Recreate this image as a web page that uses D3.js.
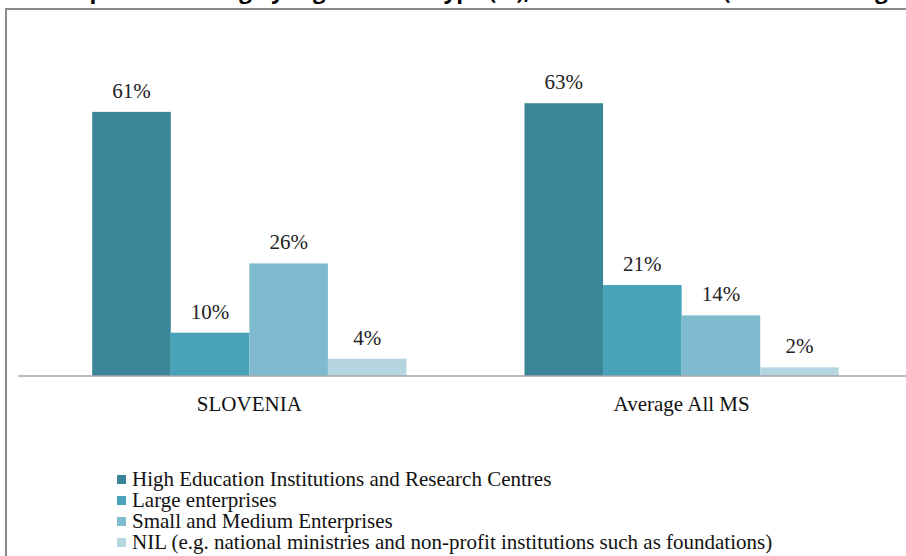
<!DOCTYPE html>
<html>
<head>
<meta charset="utf-8">
<script src="https://cdn.jsdelivr.net/npm/d3@7"></script>
<style>
  body { margin: 0; background: #fff; }
  svg { display: block; }
  .serif { font-family: 'Liberation Serif', 'Times New Roman', Times, serif; }
</style>
</head>
<body>
<div id="wrapper"></div>
<script>
// data
const groups = ['SLOVENIA', 'Average All MS']
const series = [
    'High Education Institutions and Research Centres',
    'Large enterprises',
    'Small and Medium Enterprises',
    'NIL (e.g. national ministries and non-profit institutions such as foundations)',
]
const slovenia = [61, 10, 26, 4]
const averageMS = [63, 21, 14, 2]
const colors = ['#3a8598', '#48a2ba', '#7fbace', '#b5d5e1']

const width = 906
const height = 556
const dimensions = {
    width: width,
    height: height,
    margin: { top: 35, right: 9, bottom: 180, left: 33 },
}
dimensions.boundedWidth = dimensions.width - dimensions.margin.left - dimensions.margin.right
dimensions.boundedHeight = dimensions.height - dimensions.margin.top - dimensions.margin.bottom

const wrapper = d3.select('#wrapper')
    .append('svg')
        .attr('width', dimensions.width)
        .attr('height', dimensions.height)

// title, mostly cut off by the top edge
wrapper.append('text')
    .attr('x', 18)
    .attr('y', -1)
    .style('font-family', "'Open Sans', sans-serif")
    .attr('font-weight', 'bold')
    .attr('font-size', 22)
    .attr('fill', '#000')
    .text('Participation funding by organisation type (%), H2020 SLOVENIA (cumulative figures) age data')

// chart frame
wrapper.append('rect')
    .attr('x', 6)
    .attr('y', 9)
    .attr('width', 920)
    .attr('height', 600)
    .attr('fill', 'none')
    .attr('stroke', '#8a8a8a')
    .attr('stroke-width', 2)

const bounds = wrapper.append('g')
    .attr('transform', `translate(${dimensions.margin.left}, ${dimensions.margin.top})`)

// scales
const x0 = d3.scaleBand()
    .domain(groups)
    .range([0, 865])
    .paddingInner(0.273)
    .paddingOuter(0.137)

const x1 = d3.scaleBand()
    .domain(series)
    .range([0, x0.bandwidth()])

const yScale = d3.scaleLinear()
    .domain([0, 80])
    .range([341, 341 - 80 * 4.33])

const table = groups.map((g, i) => ({
    group: g,
    values: (i === 0 ? slovenia : averageMS).map((v, j) => ({ key: series[j], value: v, color: colors[j] })),
}))

const groupG = bounds.selectAll('.grp')
    .data(table)
    .join('g')
        .attr('transform', d => `translate(${x0(d.group)}, 0)`)

groupG.selectAll('rect')
    .data(d => d.values)
    .join('rect')
        .attr('x', d => x1(d.key))
        .attr('width', x1.bandwidth())
        .attr('y', d => yScale(d.value))
        .attr('height', d => yScale(0) - yScale(d.value))
        .attr('fill', d => d.color)

groupG.selectAll('.lbl')
    .data(d => d.values)
    .join('text')
        .attr('class', 'lbl serif')
        .attr('x', d => x1(d.key) + x1.bandwidth() / 2)
        .attr('y', d => yScale(d.value) - 14)
        .attr('text-anchor', 'middle')
        .attr('font-size', 21)
        .attr('fill', '#222')
        .text(d => d.value + '%')

// x axis
const xAxis = bounds.append('g')
    .attr('transform', `translate(0, ${yScale(0)})`)
    .call(d3.axisBottom(x0).tickSize(0).tickPadding(20))
xAxis.select('.domain').remove()
xAxis.append('line')
    .attr('x1', -15).attr('x2', 880)
    .attr('stroke', '#a6a6a6')
    .attr('stroke-width', 1.5)
xAxis.selectAll('.tick text')
    .attr('class', 'serif')
    .attr('font-size', 21)
    .attr('fill', '#111')

// legend
const legend = wrapper.append('g')
    .attr('transform', 'translate(117, 475)')

const legendItems = legend.selectAll('g')
    .data(series)
    .join('g')
        .attr('transform', (d, i) => `translate(0, ${i * 21})`)

legendItems.append('rect')
    .attr('width', 9)
    .attr('height', 9)
    .attr('fill', (d, i) => colors[i])

legendItems.append('text')
    .attr('class', 'serif')
    .attr('x', 15)
    .attr('y', 11)
    .attr('font-size', 21)
    .attr('fill', '#111')
    .text(d => d)
</script>
</body>
</html>
